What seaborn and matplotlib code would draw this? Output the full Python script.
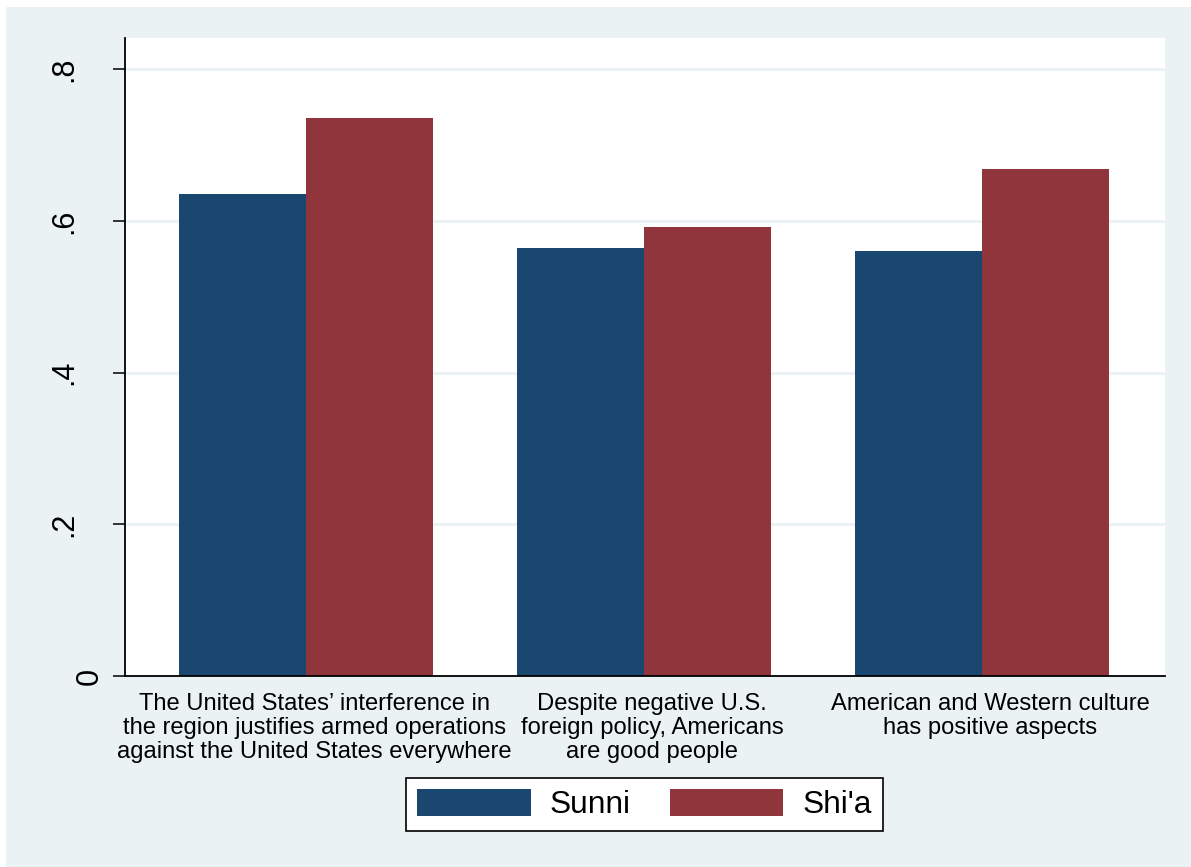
import matplotlib
matplotlib.use("Agg")
import matplotlib.pyplot as plt
from matplotlib.patches import Rectangle
from matplotlib.transforms import ScaledTranslation
import seaborn as sns
import pandas as pd

categories = [
    "The United States\u2019 interference in\nthe region justifies armed operations\nagainst the United States everywhere",
    "Despite negative U.S.\nforeign policy, Americans\nare good people",
    "American and Western culture\nhas positive aspects",
]
groups = ["Sunni", "Shi'a"]
sunni = [0.635, 0.564, 0.560]
shia = [0.735, 0.592, 0.668]
ytick_vals = [0, 0.2, 0.4, 0.6, 0.8]
ytick_labels = ["0", ".2", ".4", ".6", ".8"]
colors = ["#1A476F", "#90353B"]

df = pd.DataFrame({
    "category": categories * 2,
    "group": [groups[0]] * 3 + [groups[1]] * 3,
    "value": sunni + shia,
})

sns.set_theme(style="white")
plt.rcParams["font.family"] = ["Liberation Sans", "DejaVu Sans"]
plt.rcParams["text.color"] = "black"

BG = "#EAF2F3"
fig = plt.figure(figsize=(11.91, 8.67), dpi=100, facecolor="white")
fig.patches.append(Rectangle((6 / 1191, 0), 1, 1 - 7 / 867, transform=fig.transFigure,
                             facecolor=BG, edgecolor="none", zorder=-10))
ax = fig.add_axes([125 / 1191, 1 - 676 / 867, 1040 / 1191, 638 / 867])
ax.set_facecolor("white")

sns.barplot(data=df, x="category", y="value", hue="group", order=categories,
            hue_order=groups, palette=colors, saturation=1, width=0.751,
            linewidth=0, errorbar=None, ax=ax, zorder=3)

ax.set_xlim(-0.536, 2.54)
ax.set_ylim(0, 0.841)
ax.set_xlabel("")
ax.set_ylabel("")

for v in ytick_vals[1:]:
    ax.axhline(v, color=BG, linewidth=2, zorder=1)

for s in ["top", "right"]:
    ax.spines[s].set_visible(False)
for s in ["left", "bottom"]:
    ax.spines[s].set_color("black")
    ax.spines[s].set_linewidth(1.3)
    ax.spines[s].set_zorder(5)

ax.set_yticks(ytick_vals)
ax.set_yticklabels(ytick_labels, rotation=90, ha="right", va="center", fontsize=22)
ax.tick_params(axis="y", length=9, width=1.1, color="black", pad=24, left=True, labelcolor="black")
ax.tick_params(axis="x", length=0, pad=12, labelsize=17.1, labelcolor="black")
for lab in ax.get_xticklabels():
    lab.set_linespacing(1.12)
    lab.set_transform(lab.get_transform() + ScaledTranslation(8 / 100, 0, fig.dpi_scale_trans))
for lab in ax.get_yticklabels():
    if lab.get_text() == "0":
        lab.set_transform(lab.get_transform() + ScaledTranslation(26 / 100, 0, fig.dpi_scale_trans))

handles, labels = ax.get_legend_handles_labels()
if ax.legend_:
    ax.legend_.remove()
leg = fig.legend(handles, labels, loc="center", bbox_to_anchor=(644.5 / 1191, 1 - 804.5 / 867),
                 bbox_transform=fig.transFigure, ncol=2, fontsize=22.8, frameon=True,
                 fancybox=False, shadow=False, framealpha=1, edgecolor="black",
                 handlelength=3.57, handleheight=0.95, handletextpad=0.6,
                 columnspacing=1.25, borderpad=0.35)
leg.get_frame().set_linewidth(1.2)
for t in leg.get_texts():
    t.set_color("black")

fig.savefig("out.png", dpi=100, facecolor=fig.get_facecolor())
